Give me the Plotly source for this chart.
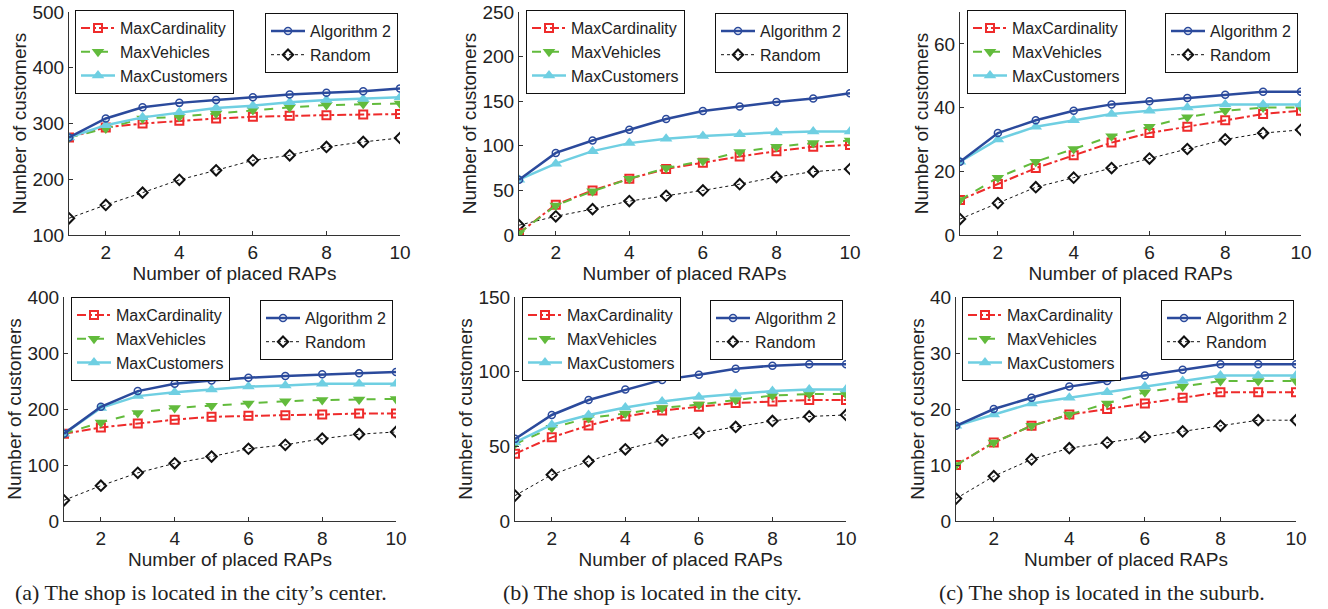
import plotly.graph_objects as go

W, H = 1328, 609

x_raps = [1, 2, 3, 4, 5, 6, 7, 8, 9, 10]
series_names = ["MaxCardinality", "MaxVehicles", "MaxCustomers", "Algorithm 2", "Random"]

# (a) top: city's center
a_top_maxcard = [275, 293, 300, 305, 309, 312, 314, 315, 316, 317]
a_top_maxveh = [275, 291, 309, 312, 318, 324, 329, 333, 335, 336]
a_top_maxcust = [275, 297, 311, 320, 328, 332, 338, 342, 344, 347]
a_top_alg2 = [275, 309, 329, 337, 342, 347, 352, 355, 358, 363]
a_top_random = [130, 154, 176, 199, 216, 234, 243, 258, 267, 274]

# (b) top: city
b_top_maxcard = [2, 34, 50, 63, 74, 81, 88, 94, 99, 101]
b_top_maxveh = [2, 33, 49, 63, 75, 83, 93, 99, 103, 106]
b_top_maxcust = [62, 80, 94, 103, 108, 111, 113, 115, 116, 116]
b_top_alg2 = [62, 92, 106, 118, 130, 139, 144, 149, 153, 159]
b_top_random = [11, 21, 29, 38, 44, 50, 57, 65, 71, 74]

# (c) top: suburb
c_top_maxcard = [11, 16, 21, 25, 29, 32, 34, 36, 38, 39]
c_top_maxveh = [11, 18, 23, 27, 31, 34, 37, 39, 40, 40]
c_top_maxcust = [23, 30, 34, 36, 38, 39, 40, 41, 41, 41]
c_top_alg2 = [23, 32, 36, 39, 41, 42, 43, 44, 45, 45]
c_top_random = [5, 10, 15, 18, 21, 24, 27, 30, 32, 33]

# (a) bottom
a_bot_maxcard = [156, 167, 174, 181, 186, 188, 189, 190, 192, 192]
a_bot_maxveh = [156, 176, 193, 202, 206, 210, 214, 216, 217, 218]
a_bot_maxcust = [156, 202, 223, 230, 235, 240, 242, 245, 245, 245]
a_bot_alg2 = [156, 204, 232, 245, 251, 256, 259, 262, 264, 266]
a_bot_random = [37, 63, 86, 103, 115, 129, 136, 147, 155, 159]

# (b) bottom
b_bot_maxcard = [45, 56, 64, 70, 74, 76.5, 79, 80, 81, 81]
b_bot_maxveh = [51.5, 62.5, 69, 72, 75.7, 78, 81, 84, 85, 85]
b_bot_maxcust = [52.6, 64.5, 71, 76, 80, 83, 85, 87, 88, 88]
b_bot_alg2 = [55, 71, 81, 88, 94.5, 98, 102, 104, 105, 105]
b_bot_random = [17, 31, 40, 48, 54, 59, 63, 67, 70, 71]

# (c) bottom
c_bot_maxcard = [10, 14, 17, 19, 20, 21, 22, 23, 23, 23]
c_bot_maxveh = [10, 14, 17, 19, 21, 23, 24, 25, 25, 25]
c_bot_maxcust = [17, 19, 21, 22, 23, 24, 25, 26, 26, 26]
c_bot_alg2 = [17, 20, 22, 24, 25, 26, 27, 28, 28, 28]
c_bot_random = [4, 8, 11, 13, 14, 15, 16, 17, 18, 18]

x_ticks = [2, 4, 6, 8, 10]
x_title = "Number of placed RAPs"
y_title = "Number of customers"
captions = ["(a) The shop is located in the city’s center.",
            "(b) The shop is located in the city.",
            "(c) The shop is located in the suburb."]

panels = [
    dict(data=[a_top_maxcard, a_top_maxveh, a_top_maxcust, a_top_alg2, a_top_random],
         yrange=[100, 500], dtick=100, px=(69, 400), py=(12, 235), leg1=(75, 10), leg2=(265, 13)),
    dict(data=[b_top_maxcard, b_top_maxveh, b_top_maxcust, b_top_alg2, b_top_random],
         yrange=[0, 250], dtick=50, px=(519, 850), py=(12, 235), leg1=(526, 10), leg2=(715, 13)),
    dict(data=[c_top_maxcard, c_top_maxveh, c_top_maxcust, c_top_alg2, c_top_random],
         yrange=[0, 70], dtick=20, px=(960, 1301), py=(12, 235), leg1=(967, 10), leg2=(1165, 13)),
    dict(data=[a_bot_maxcard, a_bot_maxveh, a_bot_maxcust, a_bot_alg2, a_bot_random],
         yrange=[0, 400], dtick=100, px=(64, 396), py=(297, 521), leg1=(71, 297), leg2=(260, 300)),
    dict(data=[b_bot_maxcard, b_bot_maxveh, b_bot_maxcust, b_bot_alg2, b_bot_random],
         yrange=[0, 150], dtick=50, px=(515, 846), py=(297, 521), leg1=(522, 297), leg2=(710, 300)),
    dict(data=[c_bot_maxcard, c_bot_maxveh, c_bot_maxcust, c_bot_alg2, c_bot_random],
         yrange=[0, 40], dtick=10, px=(956, 1296), py=(297, 521), leg1=(962, 297), leg2=(1161, 300)),
]

styles = [
    dict(color="#ee2b2b", dash="dashdot", width=2, symbol="square-open", msize=8, mline=2),
    dict(color="#62bb3c", dash="dash", width=2, symbol="triangle-down", msize=11, mline=0),
    dict(color="#6fcfe2", dash="solid", width=2.5, symbol="triangle-up", msize=11, mline=0),
    dict(color="#2b4a9c", dash="solid", width=2.5, symbol="circle-open", msize=7, mline=1.5),
    dict(color="#111111", dash="dot", width=1, symbol="diamond-open", msize=8, mline=2),
]

FONT = "Liberation Sans, Arial, sans-serif"
TXT = "#222222"

fig = go.Figure()
layout = dict(
    width=W, height=H,
    margin=dict(l=0, r=0, t=0, b=0, autoexpand=False),
    paper_bgcolor="white", plot_bgcolor="white",
    showlegend=True,
    font=dict(family=FONT, color=TXT),
    annotations=[],
)


def px2x(p):
    return p / W


def py2y(p):
    return 1 - p / H


draw_order = [4, 0, 1, 2, 3]
for i, pan in enumerate(panels):
    n = i + 1
    xa = "x" if n == 1 else f"x{n}"
    ya = "y" if n == 1 else f"y{n}"
    lg1 = "legend" if n == 1 else f"legend{2 * n - 1}"
    lg2 = f"legend{2 * n}"
    for k in draw_order:
        st = styles[k]
        fig.add_trace(go.Scatter(
            x=x_raps, y=pan["data"][k], name=series_names[k], mode="lines+markers",
            xaxis=xa, yaxis=ya, legend=lg1 if k < 3 else lg2,
            legendrank=k,
            line=dict(color=st["color"], dash=st["dash"], width=st["width"]),
            marker=dict(symbol=st["symbol"], size=st["msize"], color=st["color"],
                        line=dict(color=st["color"], width=st["mline"])),
        ))
    xkey = "xaxis" if n == 1 else f"xaxis{n}"
    ykey = "yaxis" if n == 1 else f"yaxis{n}"
    axcommon = dict(showline=True, linecolor="#333333", linewidth=1, mirror=False,
                    showgrid=False, zeroline=False, ticks="inside", ticklen=4,
                    tickcolor="#333333", tickfont=dict(size=19, family=FONT, color=TXT))
    layout[xkey] = dict(domain=[px2x(pan["px"][0]), px2x(pan["px"][1])], anchor=ya,
                        range=[1, 10], tickvals=x_ticks,
                        title=dict(text=x_title, font=dict(size=19, family=FONT, color=TXT), standoff=0),
                        **axcommon)
    layout[ykey] = dict(domain=[py2y(pan["py"][1]), py2y(pan["py"][0])], anchor=xa,
                        range=pan["yrange"], dtick=pan["dtick"],
                        title=dict(text=y_title, font=dict(size=19, family=FONT, color=TXT), standoff=0),
                        **axcommon)
    for key, pos in ((lg1, pan["leg1"]), (lg2, pan["leg2"])):
        layout[key] = dict(x=px2x(pos[0]), y=py2y(pos[1]), xanchor="left", yanchor="top",
                           bgcolor="white", bordercolor="#111111", borderwidth=1,
                           font=dict(size=16, family=FONT, color=TXT),
                           tracegroupgap=0, itemwidth=34, traceorder="normal")

cap_x = [201, 652, 1102]
for cx, txt in zip(cap_x, captions):
    layout["annotations"].append(dict(
        x=px2x(cx), y=py2y(592), xref="paper", yref="paper", text=txt, showarrow=False,
        xanchor="center", yanchor="middle",
        font=dict(size=22, family="Liberation Serif, Times New Roman, serif", color=TXT)))

fig.update_layout(**layout)
fig.write_html("out.html", config={"displayModeBar": False},
               post_script="document.body.style.margin='0';document.body.style.overflow='hidden';")
